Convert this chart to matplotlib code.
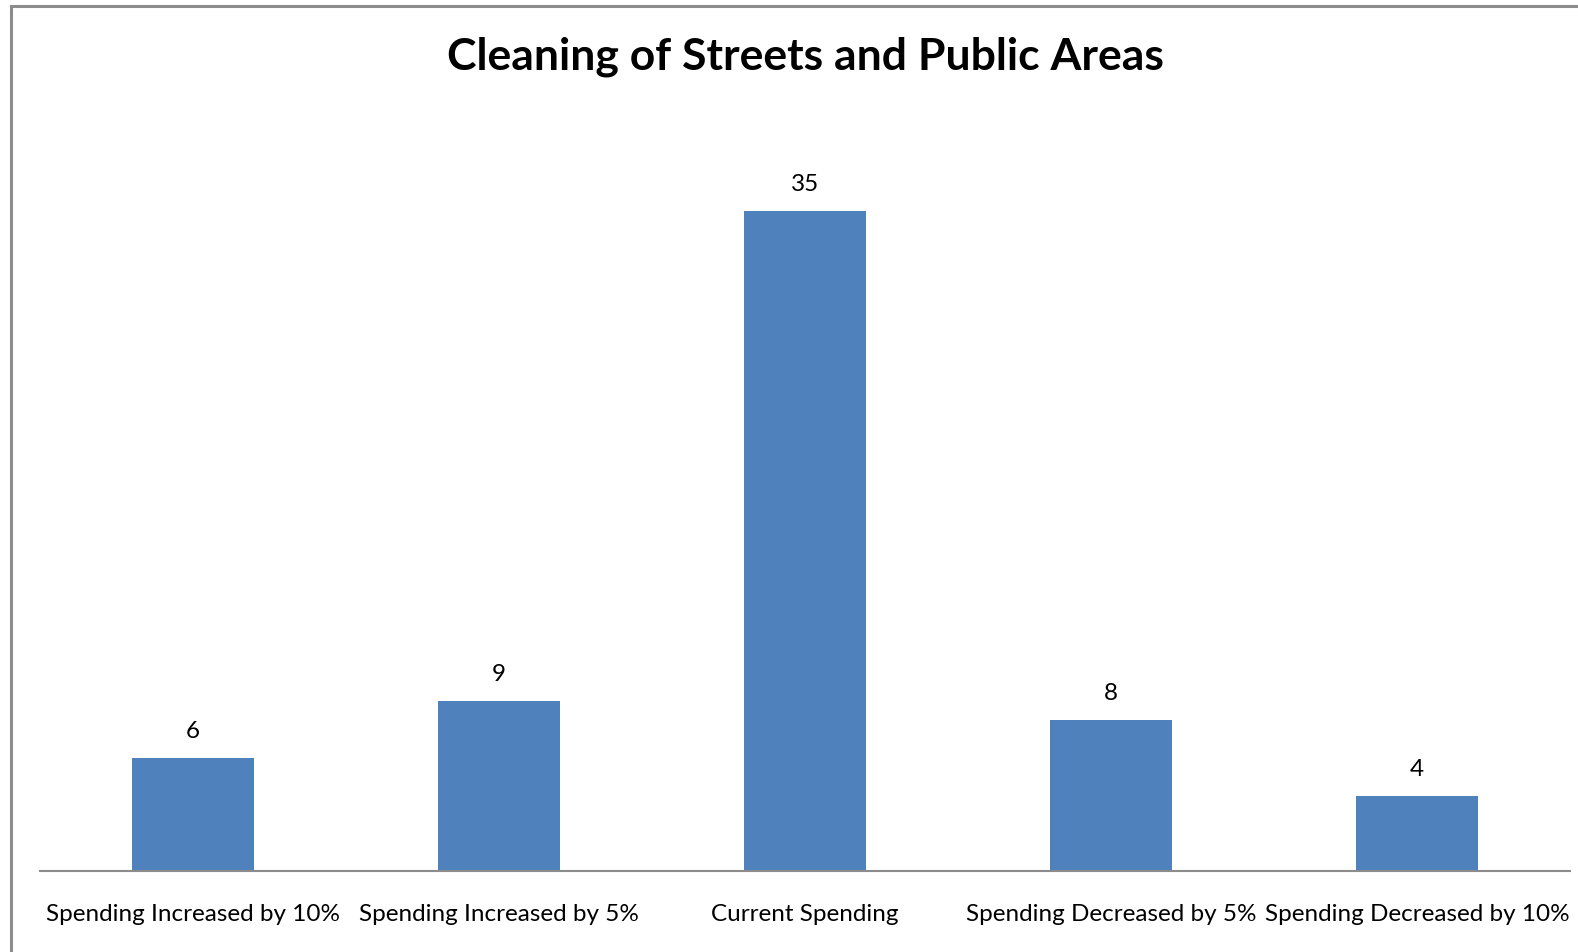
import matplotlib
matplotlib.use("Agg")
import matplotlib.pyplot as plt
from matplotlib.patches import Rectangle

categories = ["Spending Increased by 10%", "Spending Increased by 5%",
              "Current Spending", "Spending Decreased by 5%",
              "Spending Decreased by 10%"]
values = [6, 9, 35, 8, 4]
title = "Cleaning of Streets and Public Areas"

plt.rcParams['font.family'] = ['Lato', 'DejaVu Sans']

W, H = 1578, 952
fig = plt.figure(figsize=(W / 100, H / 100), dpi=100)

# chart frame (runs off the right and bottom edge)
fig.patches.append(Rectangle((11 / W, -0.1), 1.2, 1 - 6 / H + 0.1,
                             transform=fig.transFigure, fill=False,
                             edgecolor="#8c8c8c", linewidth=2.2))

ax = fig.add_axes([40 / W, (H - 871) / H, 1530 / W, (871 - 117) / H])
x = range(len(categories))
bars = ax.bar(x, values, width=0.4, color="#4F81BD")
ax.set_xlim(-0.5, len(categories) - 0.5)
ax.set_ylim(0, 40)

for b, v in zip(bars, values):
    ax.annotate(str(v), (b.get_x() + b.get_width() / 2, v),
                xytext=(0, 19), textcoords="offset points",
                ha="center", va="center", fontsize=17.5)

for s in ["top", "right", "left"]:
    ax.spines[s].set_visible(False)
ax.spines["bottom"].set_color("#8c8c8c")
ax.spines["bottom"].set_linewidth(1.5)
ax.set_yticks([])
ax.set_xticks(list(x))
ax.set_xticklabels(categories, fontsize=17.5)
ax.tick_params(axis="x", length=0, pad=24)

fig.text(805 / W, 1 - 57 / H, title, ha="center", va="center",
         fontsize=32, fontweight="bold")

fig.savefig("out.png", dpi=100)
